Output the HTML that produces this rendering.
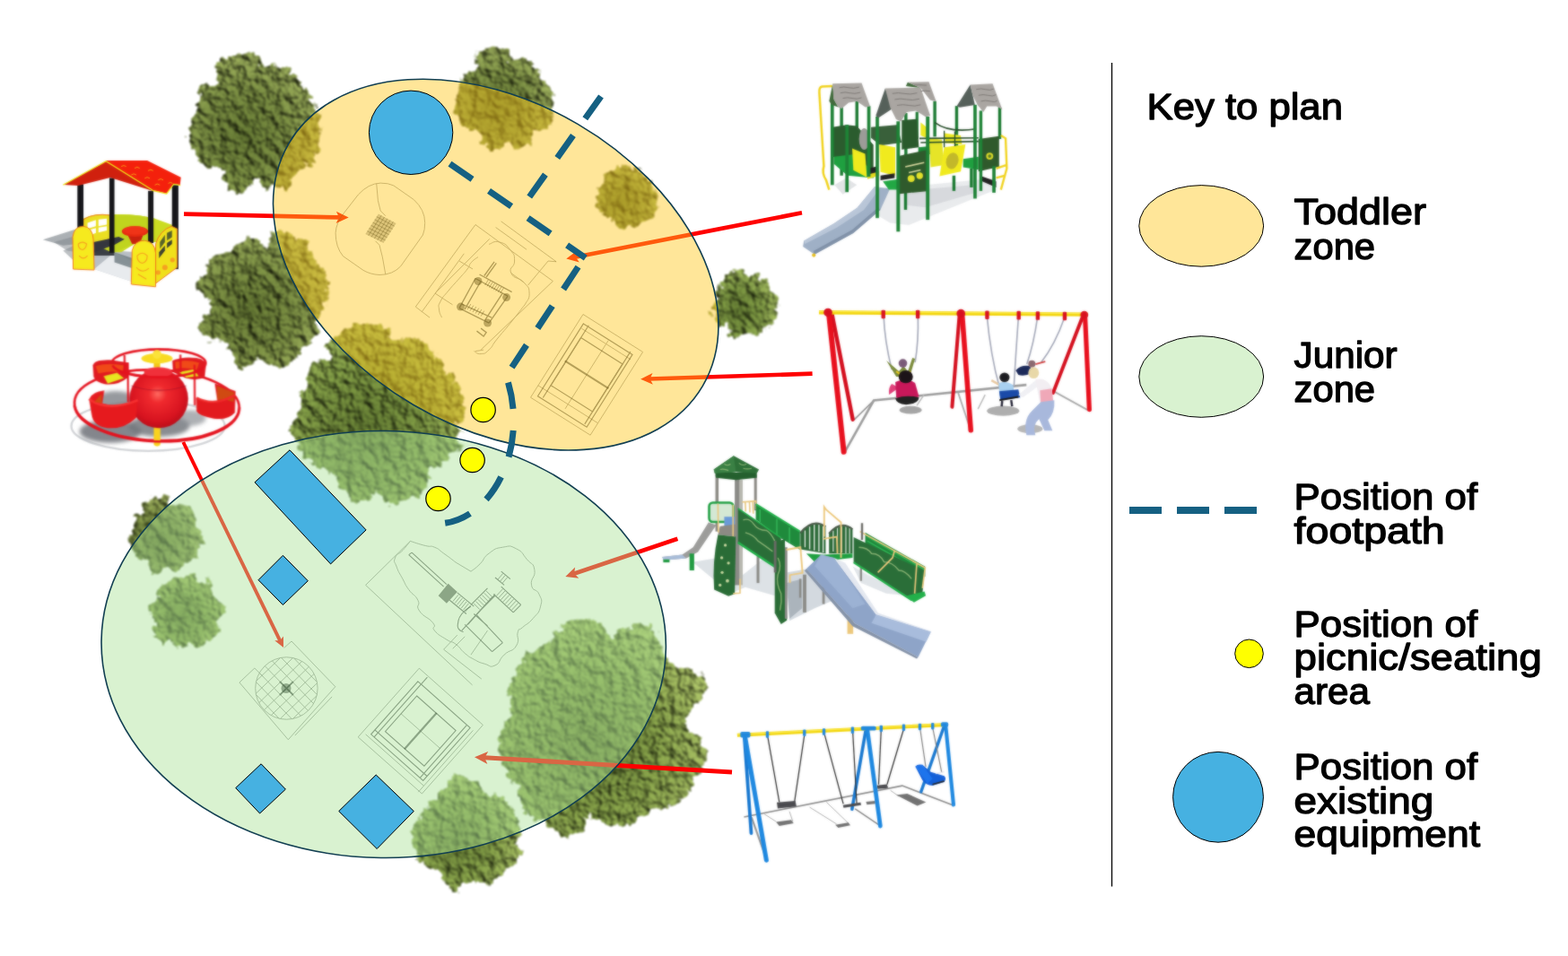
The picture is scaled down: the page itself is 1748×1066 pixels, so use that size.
<!DOCTYPE html>
<html lang="en"><head><meta charset="utf-8"><title>Play area plan</title>
<style>
html,body{margin:0;padding:0;background:#fff;}
body{width:1748px;height:1066px;overflow:hidden;font-family:"Liberation Sans",sans-serif;}
svg{display:block;}
.k{font-family:"Liberation Sans",sans-serif;font-size:41px;fill:#000;stroke:#000;stroke-width:1.3px;stroke-linejoin:round;}
</style></head><body>
<svg width="1748" height="1066" viewBox="0 0 1748 1066">
<rect width="1748" height="1066" fill="#fff"/>
<defs>

<filter id="fdark" x="-20%" y="-20%" width="140%" height="140%" color-interpolation-filters="sRGB">
  <feTurbulence type="fractalNoise" baseFrequency="0.11" numOctaves="3" seed="7" result="n1"/>
  <feDisplacementMap in="SourceGraphic" in2="n1" scale="14" xChannelSelector="R" yChannelSelector="G" result="shape"/>
  <feTurbulence type="fractalNoise" baseFrequency="0.1" numOctaves="4" seed="3" result="n2"/>
  <feColorMatrix in="n2" type="matrix" values="0 0 0 0 0  0 0 0 0 0  0 0 0 0 0  1.5 0 0 0 -0.25" result="bump"/>
  <feDiffuseLighting in="bump" surfaceScale="3.6" diffuseConstant="1.0" lighting-color="#ffffff" result="light">
    <feDistantLight azimuth="318" elevation="55"/>
  </feDiffuseLighting>
  <feComposite in="light" in2="shape" operator="arithmetic" k1="0.98" k2="0" k3="0.3" k4="-0.03" result="lit"/>
  <feComposite in="lit" in2="shape" operator="in" result="res"/>
  <feGaussianBlur in="res" stdDeviation="1"/>
</filter>
<radialGradient id="gdark" cx="0.43" cy="0.58" r="0.66">
  <stop offset="0" stop-color="#586830"/><stop offset="0.5" stop-color="#6c7c3e"/><stop offset="1" stop-color="#8e9c58"/>
</radialGradient>
<radialGradient id="gmid" cx="0.43" cy="0.58" r="0.66">
  <stop offset="0" stop-color="#586c30"/><stop offset="0.5" stop-color="#6e843e"/><stop offset="1" stop-color="#90a258"/>
</radialGradient>
<radialGradient id="glight" cx="0.43" cy="0.58" r="0.66">
  <stop offset="0" stop-color="#5e7234"/><stop offset="0.5" stop-color="#748a42"/><stop offset="1" stop-color="#96a85e"/>
</radialGradient>
<filter id="soft" x="-5%" y="-5%" width="110%" height="110%"><feGaussianBlur stdDeviation="0.8"/></filter>
<radialGradient id="gsphere" cx="0.48" cy="0.42" r="0.6">
  <stop offset="0" stop-color="#ff6a60"/><stop offset="0.25" stop-color="#f02a2e"/><stop offset="0.75" stop-color="#d81420"/><stop offset="1" stop-color="#b80c18"/>
</radialGradient>
<filter id="soft2" x="-5%" y="-5%" width="110%" height="110%"><feGaussianBlur stdDeviation="0.8"/></filter>
<filter id="blur3" x="-20%" y="-20%" width="140%" height="140%"><feGaussianBlur stdDeviation="14"/></filter>
<filter id="softe" x="-5%" y="-5%" width="110%" height="110%" color-interpolation-filters="sRGB"><feGaussianBlur stdDeviation="0.9" result="b"/><feComposite in="SourceGraphic" in2="b" operator="arithmetic" k1="0" k2="0.45" k3="0.55" k4="0"/></filter>

</defs>
<!-- trees -->
<path d="M270.7,58.8 C275.7,58.8 283.8,60.0 287.6,62.5 C291.3,65.0 289.4,71.9 293.2,73.8 C296.9,75.6 304.8,72.5 310.1,73.8 C315.4,75.0 320.4,77.8 325.1,81.3 C329.8,84.7 335.7,90.7 338.2,94.4 C340.7,98.2 337.9,100.7 340.1,103.8 C342.3,106.9 348.8,109.4 351.4,113.2 C353.9,116.9 354.5,122.2 355.1,126.3 C355.7,130.4 354.8,133.2 355.1,137.6 C355.4,141.9 357.0,147.6 357.0,152.6 C357.0,157.6 356.7,162.9 355.1,167.6 C353.5,172.3 351.0,177.3 347.6,180.7 C344.2,184.2 338.2,185.1 334.5,188.2 C330.7,191.3 327.3,195.7 325.1,199.5 C322.9,203.2 323.8,209.2 321.3,210.7 C318.8,212.3 314.5,209.2 310.1,208.9 C305.7,208.5 299.1,210.7 295.1,208.9 C291.0,207.0 288.5,197.6 285.7,197.6 C282.9,197.6 281.3,205.7 278.2,208.9 C275.1,212.0 270.7,215.7 266.9,216.4 C263.2,217.0 258.5,215.4 255.7,212.6 C252.9,209.8 250.7,203.5 250.0,199.5 C249.4,195.4 253.8,190.7 251.9,188.2 C250.0,185.7 243.2,185.1 238.8,184.5 C234.4,183.8 229.1,186.7 225.6,184.5 C222.2,182.3 220.0,175.4 218.1,171.3 C216.3,167.3 216.0,163.8 214.4,160.1 C212.8,156.3 209.1,152.6 208.8,148.8 C208.4,145.1 211.0,141.0 212.5,137.6 C214.1,134.1 217.2,131.3 218.1,128.2 C219.1,125.1 217.5,121.9 218.1,118.8 C218.8,115.7 220.6,113.2 221.9,109.4 C223.1,105.7 223.1,98.8 225.6,96.3 C228.1,93.8 234.1,96.0 236.9,94.4 C239.7,92.8 242.2,89.4 242.5,86.9 C242.8,84.4 238.5,82.5 238.8,79.4 C239.1,76.3 241.3,71.0 244.4,68.1 C247.5,65.3 253.2,64.1 257.5,62.5 C261.9,61.0 265.7,58.8 270.7,58.8Z" fill="url(#gdark)" filter="url(#fdark)"/>
<path d="M552.7,52.3 C557.8,52.3 564.0,54.6 566.8,57.0 C569.5,59.3 566.0,65.0 569.1,66.4 C572.2,67.7 580.8,63.6 585.5,65.2 C590.2,66.7 594.1,71.8 597.3,75.7 C600.4,79.6 601.6,84.9 604.3,88.6 C607.0,92.3 611.7,94.5 613.7,98.0 C615.6,101.5 615.8,105.4 616.0,109.7 C616.2,114.0 614.8,119.5 614.8,123.8 C614.8,128.1 617.4,132.0 616.0,135.5 C614.7,139.1 609.8,143.0 606.6,144.9 C603.5,146.9 600.0,144.5 597.3,147.3 C594.5,150.0 593.4,158.2 590.2,161.3 C587.1,164.5 582.8,166.0 578.5,166.0 C574.2,166.0 569.1,161.1 564.4,161.3 C559.7,161.5 554.7,167.2 550.4,167.2 C546.1,167.2 541.0,164.3 538.6,161.3 C536.3,158.4 539.0,152.3 536.3,149.6 C533.5,146.9 526.5,147.7 522.2,144.9 C517.9,142.2 513.2,137.5 510.5,133.2 C507.8,128.9 505.8,123.8 505.8,119.1 C505.8,114.4 508.9,109.7 510.5,105.0 C512.1,100.4 513.6,95.1 515.2,91.0 C516.7,86.9 517.3,83.2 519.9,80.4 C522.4,77.7 529.1,77.1 530.4,74.6 C531.8,72.0 527.1,68.1 528.1,65.2 C529.1,62.2 532.2,59.1 536.3,57.0 C540.4,54.8 547.6,52.3 552.7,52.3Z" fill="url(#gdark)" filter="url(#fdark)"/>
<path d="M692.2,183.6 C696.2,183.2 701.0,185.4 705.1,187.1 C709.2,188.9 713.3,191.4 716.9,194.2 C720.4,196.9 723.7,199.6 726.2,203.5 C728.8,207.5 731.1,212.9 732.1,217.6 C733.1,222.3 733.1,227.4 732.1,231.7 C731.1,236.0 729.2,240.1 726.2,243.4 C723.3,246.7 718.8,250.1 714.5,251.6 C710.2,253.2 704.7,252.2 700.5,252.8 C696.2,253.4 691.9,256.3 688.7,255.1 C685.6,254.0 684.8,248.9 681.7,245.8 C678.6,242.6 672.9,239.9 670.0,236.4 C667.0,232.9 664.5,229.0 664.1,224.7 C663.7,220.4 665.9,214.9 667.6,210.6 C669.4,206.3 672.3,202.4 674.7,198.9 C677.0,195.3 678.8,192.0 681.7,189.5 C684.6,186.9 688.3,184.0 692.2,183.6Z" fill="url(#gdark)" filter="url(#fdark)"/>
<path d="M283.8,265.8 C287.9,266.3 290.0,271.9 292.7,273.0 C295.3,274.0 298.0,273.7 299.8,272.1 C301.6,270.4 301.0,265.5 303.4,263.2 C305.7,260.8 309.9,257.8 314.1,257.8 C318.2,257.8 323.9,261.1 328.3,263.2 C332.8,265.2 337.5,267.0 340.8,270.3 C344.1,273.6 346.1,278.9 347.9,282.8 C349.7,286.6 349.4,290.2 351.5,293.5 C353.6,296.7 358.2,298.8 360.4,302.4 C362.6,305.9 364.3,310.4 364.9,314.9 C365.4,319.3 364.4,324.7 364.0,329.1 C363.5,333.6 363.1,337.4 362.2,341.6 C361.3,345.7 360.4,350.8 358.6,354.1 C356.8,357.3 351.8,358.5 351.5,361.2 C351.2,363.9 357.1,366.8 356.8,370.1 C356.5,373.4 352.7,378.4 349.7,380.8 C346.7,383.2 342.0,382.0 339.0,384.4 C336.0,386.7 334.3,391.5 331.9,395.1 C329.5,398.6 328.3,403.4 324.8,405.7 C321.2,408.1 315.2,409.6 310.5,409.3 C305.7,409.0 300.4,405.4 296.2,404.0 C292.1,402.5 289.1,399.5 285.5,400.4 C282.0,401.3 278.4,408.4 274.9,409.3 C271.3,410.2 266.8,408.1 264.2,405.7 C261.5,403.4 261.2,398.9 258.8,395.1 C256.4,391.2 253.8,385.0 249.9,382.6 C246.0,380.2 239.8,382.6 235.6,380.8 C231.5,379.0 227.0,375.2 225.0,371.9 C222.9,368.6 222.6,364.8 223.2,361.2 C223.8,357.6 226.4,353.5 228.5,350.5 C230.6,347.5 235.1,346.3 235.6,343.4 C236.2,340.4 234.5,335.6 232.1,332.7 C229.7,329.7 223.5,328.2 221.4,325.5 C219.3,322.9 218.7,319.6 219.6,316.6 C220.5,313.7 225.0,311.3 226.7,307.7 C228.5,304.2 229.4,298.5 230.3,295.2 C231.2,292.0 229.4,289.9 232.1,288.1 C234.8,286.3 242.2,286.0 246.3,284.6 C250.5,283.1 253.5,281.6 257.0,279.2 C260.6,276.8 263.3,272.5 267.7,270.3 C272.2,268.1 279.6,265.4 283.8,265.8Z" fill="url(#gdark)" filter="url(#fdark)"/>
<path d="M407.0,357.5 C411.5,357.5 417.0,361.2 421.5,362.7 C425.9,364.3 431.4,364.4 433.8,366.8 C436.2,369.2 432.8,375.4 435.9,377.2 C439.0,378.9 446.9,376.8 452.4,377.2 C457.9,377.5 464.5,377.2 468.9,379.2 C473.4,381.3 475.8,386.1 479.2,389.5 C482.7,393.0 486.8,396.1 489.6,399.9 C492.3,403.6 492.7,408.1 495.8,412.2 C498.9,416.4 505.0,420.5 508.1,424.6 C511.2,428.8 512.6,432.5 514.3,437.0 C516.1,441.5 518.1,447.0 518.5,451.5 C518.8,455.9 518.1,460.4 516.4,463.8 C514.7,467.3 508.1,469.3 508.1,472.1 C508.1,474.8 516.4,477.6 516.4,480.4 C516.4,483.1 508.1,485.9 508.1,488.6 C508.1,491.4 516.4,494.1 516.4,496.9 C516.4,499.6 511.6,502.7 508.1,505.1 C504.7,507.5 498.9,508.6 495.8,511.3 C492.7,514.1 493.0,519.2 489.6,521.6 C486.1,524.0 476.8,523.4 475.1,525.8 C473.4,528.2 479.6,532.6 479.2,536.1 C478.9,539.5 475.8,543.3 473.1,546.4 C470.3,549.5 466.5,552.6 462.7,554.7 C459.0,556.7 455.2,557.6 450.4,558.8 C445.5,560.0 438.7,563.6 433.8,561.9 C429.0,560.2 425.6,548.8 421.5,548.5 C417.3,548.1 413.9,558.4 409.1,559.8 C404.3,561.2 397.4,559.0 392.6,556.7 C387.7,554.5 382.6,550.2 380.2,546.4 C377.8,542.6 380.2,537.5 378.1,534.0 C376.0,530.6 372.3,528.2 367.8,525.8 C363.3,523.4 356.1,522.3 351.3,519.6 C346.5,516.8 342.0,513.0 338.9,509.2 C335.8,505.5 334.8,501.0 332.7,496.9 C330.6,492.7 327.9,488.3 326.5,484.5 C325.1,480.7 323.8,477.6 324.4,474.2 C325.1,470.7 328.6,467.6 330.6,463.8 C332.7,460.1 336.1,455.6 336.8,451.5 C337.5,447.3 334.1,443.2 334.8,439.1 C335.5,434.9 339.2,431.2 341.0,426.7 C342.7,422.2 343.4,416.0 345.1,412.2 C346.8,408.5 348.2,405.7 351.3,404.0 C354.4,402.3 360.6,403.3 363.7,401.9 C366.8,400.5 369.9,398.1 369.9,395.7 C369.9,393.3 363.7,390.6 363.7,387.5 C363.7,384.4 366.8,380.2 369.9,377.2 C373.0,374.1 378.1,371.3 382.2,368.9 C386.4,366.5 390.5,364.6 394.6,362.7 C398.8,360.8 402.5,357.5 407.0,357.5Z" fill="url(#gmid)" filter="url(#fdark)"/>
<path d="M822.9,300.3 C826.1,300.1 830.0,301.2 831.9,302.5 C833.8,303.8 832.1,307.4 834.2,308.1 C836.2,308.9 841.5,306.3 844.3,307.0 C847.1,307.8 849.0,310.8 851.1,312.6 C853.1,314.5 855.4,316.2 856.7,318.3 C858.0,320.3 857.6,323.3 858.9,325.0 C860.2,326.7 863.4,326.5 864.6,328.4 C865.7,330.3 865.9,333.8 865.7,336.3 C865.5,338.7 863.3,340.8 863.4,343.0 C863.5,345.3 866.3,347.4 866.3,349.8 C866.3,352.2 865.0,355.4 863.4,357.7 C861.8,359.9 858.7,361.8 856.7,363.3 C854.6,364.8 852.4,365.0 851.1,366.7 C849.7,368.4 850.3,372.1 848.8,373.4 C847.3,374.8 844.7,374.9 842.0,374.6 C839.4,374.2 835.5,371.4 833.0,371.2 C830.6,371.0 829.3,372.4 827.4,373.4 C825.5,374.5 823.8,377.2 821.8,377.4 C819.7,377.6 816.6,376.2 815.0,374.6 C813.4,373.0 813.5,370.1 812.2,367.8 C810.9,365.6 808.9,362.0 807.1,361.1 C805.4,360.1 803.2,362.7 801.5,362.2 C799.8,361.6 798.0,359.6 797.0,357.7 C796.1,355.8 796.7,353.2 795.9,350.9 C795.0,348.7 792.1,346.4 792.0,344.2 C791.8,341.9 793.5,339.3 794.8,337.4 C796.0,335.5 798.7,335.0 799.3,332.9 C799.8,330.8 797.8,327.5 798.1,325.0 C798.5,322.6 800.0,319.6 801.5,318.3 C803.0,317.0 806.2,318.7 807.1,317.1 C808.1,315.6 806.2,311.5 807.1,309.3 C808.1,307.0 810.2,305.1 812.8,303.6 C815.4,302.1 819.7,300.5 822.9,300.3Z" fill="url(#gmid)" filter="url(#fdark)"/>
<path d="M177.4,552.7 C180.8,552.7 186.5,554.1 188.8,555.8 C191.0,557.5 188.4,562.0 190.8,563.0 C193.2,564.1 199.4,561.0 203.2,562.0 C207.0,563.0 211.1,566.3 213.5,569.2 C215.9,572.1 215.9,576.1 217.6,579.5 C219.4,583.0 222.6,586.1 223.8,589.9 C225.0,593.6 224.9,598.5 224.9,602.2 C224.9,606.0 224.7,609.5 223.8,612.6 C223.0,615.7 221.8,618.8 219.7,620.8 C217.6,622.9 213.9,622.9 211.5,624.9 C209.0,627.0 208.4,631.5 205.3,633.2 C202.2,634.9 196.7,635.3 192.9,635.3 C189.1,635.3 185.7,632.5 182.6,633.2 C179.5,633.9 177.1,639.4 174.3,639.4 C171.6,639.4 167.4,635.6 166.0,633.2 C164.7,630.8 167.8,626.7 166.0,624.9 C164.3,623.2 158.7,624.3 155.7,622.9 C152.8,621.5 149.9,619.1 148.5,616.7 C147.1,614.3 148.5,610.8 147.5,608.4 C146.4,606.0 142.3,604.6 142.3,602.2 C142.3,599.8 146.4,597.1 147.5,594.0 C148.5,590.9 147.5,587.1 148.5,583.7 C149.5,580.2 151.4,575.8 153.7,573.3 C155.9,570.9 160.9,571.3 161.9,569.2 C163.0,567.2 158.8,563.2 159.9,561.0 C160.9,558.7 165.2,557.2 168.1,555.8 C171.0,554.4 174.0,552.7 177.4,552.7Z" fill="url(#gdark)" filter="url(#fdark)"/>
<path d="M207.3,640.4 C210.9,640.3 215.9,642.0 218.7,643.5 C221.4,645.1 221.3,649.0 223.8,649.7 C226.4,650.4 231.8,646.3 234.2,647.6 C236.6,649.0 237.3,654.5 238.3,658.0 C239.3,661.4 238.6,665.9 240.4,668.3 C242.1,670.7 246.9,670.4 248.6,672.4 C250.3,674.5 251.4,677.9 250.7,680.7 C250.0,683.4 245.5,685.8 244.5,688.9 C243.4,692.0 245.2,695.8 244.5,699.2 C243.8,702.7 242.4,706.5 240.4,709.6 C238.3,712.7 235.2,716.1 232.1,717.8 C229.0,719.5 225.2,719.9 221.8,719.9 C218.3,719.9 214.6,717.5 211.5,717.8 C208.4,718.2 205.8,722.0 203.2,722.0 C200.6,722.0 198.4,719.2 196.0,717.8 C193.6,716.4 191.0,713.4 188.8,713.7 C186.5,714.0 185.0,720.2 182.6,719.9 C180.2,719.5 176.4,714.7 174.3,711.6 C172.2,708.5 170.5,704.4 170.2,701.3 C169.8,698.2 172.8,696.2 172.2,693.1 C171.7,690.0 167.4,686.2 167.1,682.7 C166.7,679.3 168.6,675.5 170.2,672.4 C171.7,669.3 175.0,667.3 176.4,664.2 C177.7,661.1 176.7,656.6 178.4,653.8 C180.2,651.1 183.6,649.2 186.7,647.6 C189.8,646.1 193.6,645.8 197.0,644.6 C200.4,643.3 203.7,640.6 207.3,640.4Z" fill="url(#gmid)" filter="url(#fdark)"/>
<path d="M631.9,694.8 C637.0,692.4 646.9,689.6 653.6,690.1 C660.3,690.6 668.0,694.5 672.1,697.9 C676.3,701.2 674.2,709.7 678.3,710.2 C682.4,710.8 690.7,703.8 696.9,701.0 C703.1,698.1 709.8,692.7 715.5,693.2 C721.1,693.7 727.3,699.1 730.9,704.0 C734.5,708.9 734.5,716.9 737.1,722.6 C739.7,728.3 742.8,734.5 746.4,738.1 C750.0,741.7 754.1,742.7 758.8,744.3 C763.4,745.8 769.9,744.8 774.3,747.4 C778.6,750.0 783.5,754.6 785.1,759.8 C786.6,764.9 786.4,772.7 783.5,778.3 C780.7,784.0 771.2,788.6 768.1,793.8 C765.0,799.0 763.4,804.6 765.0,809.3 C766.5,813.9 773.7,817.0 777.4,821.7 C781.0,826.3 785.6,831.5 786.6,837.1 C787.7,842.8 785.6,850.0 783.5,855.7 C781.5,861.4 777.4,866.0 774.3,871.2 C771.2,876.3 769.6,882.0 765.0,886.7 C760.3,891.3 752.6,895.9 746.4,899.0 C740.2,902.1 733.5,902.6 727.8,905.2 C722.2,907.8 718.0,911.9 712.4,914.5 C706.7,917.1 698.9,919.1 693.8,920.7 C688.6,922.2 685.5,924.8 681.4,923.8 C677.3,922.8 673.7,916.6 669.0,914.5 C664.4,912.4 656.7,909.9 653.6,911.4 C650.5,913.0 654.1,920.2 650.5,923.8 C646.9,927.4 638.1,933.6 631.9,933.1 C625.7,932.6 618.0,923.8 613.3,920.7 C608.7,917.6 608.2,916.6 604.0,914.5 C599.9,912.4 592.7,911.9 588.6,908.3 C584.4,904.7 581.3,898.0 579.3,892.8 C577.2,887.7 578.8,882.5 576.2,877.4 C573.6,872.2 566.9,867.6 563.8,861.9 C560.7,856.2 558.9,849.5 557.6,843.3 C556.3,837.1 555.3,830.9 556.1,824.8 C556.8,818.6 559.9,811.9 562.3,806.2 C564.6,800.5 569.2,796.4 570.0,790.7 C570.8,785.0 566.4,778.3 566.9,772.1 C567.4,765.9 571.0,759.2 573.1,753.6 C575.1,747.9 575.7,742.7 579.3,738.1 C582.9,733.4 589.6,729.3 594.8,725.7 C599.9,722.1 605.6,720.0 610.2,716.4 C614.9,712.8 619.0,707.7 622.6,704.0 C626.2,700.4 626.7,697.1 631.9,694.8Z" fill="url(#glight)" filter="url(#fdark)"/>
<path d="M511.2,863.4 C515.8,864.0 524.6,867.8 529.8,871.2 C534.9,874.5 537.0,880.5 542.1,883.6 C547.3,886.7 555.5,886.1 560.7,889.7 C565.9,893.4 570.0,899.0 573.1,905.2 C576.2,911.4 578.8,920.7 579.3,926.9 C579.8,933.1 575.9,937.7 576.2,942.4 C576.4,947.0 581.9,950.6 580.8,954.7 C579.8,958.9 574.4,963.5 570.0,967.1 C565.6,970.7 559.2,973.3 554.5,976.4 C549.9,979.5 546.8,984.7 542.1,985.7 C537.5,986.7 531.8,981.6 526.7,982.6 C521.5,983.6 516.3,991.4 511.2,991.9 C506.0,992.4 499.3,989.3 495.7,985.7 C492.1,982.1 493.1,973.8 489.5,970.2 C485.9,966.6 478.2,966.6 474.0,964.0 C469.9,961.4 467.3,958.9 464.8,954.7 C462.2,950.6 459.1,944.9 458.6,939.3 C458.1,933.6 459.6,926.4 461.7,920.7 C463.7,915.0 467.3,909.9 471.0,905.2 C474.6,900.6 479.7,897.0 483.3,892.8 C486.9,888.7 489.5,884.6 492.6,880.5 C495.7,876.3 498.8,870.9 501.9,868.1 C505.0,865.2 506.5,862.9 511.2,863.4Z" fill="url(#glight)" filter="url(#fdark)"/>

<!-- equipment -->
<g filter="url(#softe)"><g transform="translate(30,150) scale(0.18762)">
  <!-- shadow -->
  <polygon points="95,625 300,560 300,650 215,660" fill="#8f959b" opacity="0.75"/>
  <polygon points="215,690 300,650 300,770" fill="#a0a5aa" opacity="0.7"/>
  <polygon points="160,640 300,600 300,700 240,690" fill="#7d8389" opacity="0.5"/>
  <!-- floor -->
  <polygon points="395,690 520,690 660,700 640,880 400,800" fill="#b8bec4"/>
  <polygon points="400,800 640,880 760,905 765,880 640,760 520,700" fill="#e8ebee"/>
  <polygon points="520,700 640,740 640,800 520,760" fill="#6d7a80" opacity="0.8"/>
  <polygon points="400,690 520,660 520,720 400,720" fill="#3a3f45"/>
  <!-- back wall -->
  <path d="M335,500 Q400,465 500,478 L520,475 Q650,470 760,500 L870,540 L870,640 L760,640 L640,650 L560,700 L500,700 L400,650 L335,600 Z" fill="#cbdc22"/>
  <path d="M520,480 Q650,470 760,500 L760,640 L640,650 L520,700 Z" fill="#c0d41e"/>
  <!-- left side window panel -->
  <path d="M335,505 Q400,465 495,480 L495,620 L395,650 L335,600 Z" fill="#eadf22" stroke="#f0701a" stroke-width="5"/>
  <polygon points="360,525 410,508 410,545 360,560" fill="#fff"/>
  <polygon points="425,505 475,500 475,535 425,545" fill="#fff"/>
  <polygon points="360,570 410,555 410,585 375,600" fill="#fff"/>
  <polygon points="425,553 475,545 475,570 425,582" fill="#fff"/>
  <!-- table -->
  <polygon points="600,600 690,600 670,650 625,650" fill="#c8200e"/>
  <ellipse cx="642" cy="575" rx="78" ry="32" fill="#e62a10"/>
  <ellipse cx="642" cy="570" rx="70" ry="25" fill="#f03418"/>
  <!-- bench -->
  <polygon points="395,640 545,608 580,622 520,655 400,700" fill="#34363e"/>
  <!-- posts -->
  <rect x="300" y="295" width="36" height="260" fill="#16161a"/>
  <rect x="490" y="258" width="30" height="445" fill="#16161a"/>
  <rect x="720" y="335" width="32" height="310" fill="#16161a"/>
  <rect x="862" y="300" width="38" height="500" fill="#16161a"/>
  <!-- right side panel -->
  <path d="M765,650 Q790,570 860,545 L892,560 L892,790 L765,885 Z" fill="#f0e01a" stroke="#f0701a" stroke-width="5"/>
  <polygon points="790,640 820,595 820,640 790,680" fill="#55602a"/>
  <polygon points="832,585 862,570 862,610 832,630" fill="#55602a"/>
  <polygon points="785,700 820,660 820,690 785,735" fill="#3c4030"/>
  <polygon points="832,645 862,625 862,650 832,675" fill="#3c4030"/>
  <circle cx="820" cy="790" r="16" fill="#f5a020"/><circle cx="865" cy="745" r="14" fill="#f5a020"/><circle cx="780" cy="820" r="14" fill="#f5a020"/>
  <!-- front panels -->
  <path d="M275,800 L272,610 Q280,545 335,545 Q390,550 395,625 L400,805 Z" fill="#f6ea1e" stroke="#f0701a" stroke-width="5"/>
  <path d="M305,650 q25,-20 50,0 q-5,30 -25,35 q-25,-5 -25,-35 M310,720 q25,30 50,0" fill="none" stroke="#f5a020" stroke-width="6"/>
  <path d="M620,890 L625,690 Q640,628 700,630 Q760,636 765,705 L765,905 Z" fill="#f6ea1e" stroke="#f0701a" stroke-width="5"/>
  <path d="M655,720 q30,-30 60,0 q0,40 -30,45 q-30,-5 -30,-45 M650,790 q35,40 75,5 M660,830 l50,30" fill="none" stroke="#f5a020" stroke-width="6"/>
  <!-- roof -->
  <polygon points="470,160 215,298 305,304 495,256 745,335 752,328 480,166" fill="#d0200e"/>
  <polygon points="470,154 715,154 915,255 910,300 872,293 830,350 745,330 472,166" fill="#f4200c"/>
  <path d="M215,300 L470,158 L748,332 M745,332 L830,352 L872,295 L912,302" fill="none" stroke="#ecec18" stroke-width="7"/>
  <path d="M560,190 q15,-12 30,0 M640,200 q15,-12 30,0 M720,215 q15,-12 30,0 M620,240 q15,-12 30,0 M700,260 q15,-12 30,0 M780,270 q15,-12 30,0 M760,300 q15,-12 30,0 M840,290 q12,-10 25,0" fill="none" stroke="#f6a016" stroke-width="5"/>
</g></g>
<g filter="url(#softe)"><g transform="translate(60,370) scale(0.15009)">
  <ellipse cx="700" cy="700" rx="570" ry="185" fill="none" stroke="#c4c7cb" stroke-width="16" opacity="0.75"/>
  <g filter="url(#blur3)">
  <ellipse cx="420" cy="740" rx="230" ry="85" fill="#6e7278" opacity="0.85"/>
  <ellipse cx="780" cy="700" rx="230" ry="80" fill="#74787e" opacity="0.85"/>
  <ellipse cx="460" cy="510" rx="150" ry="70" fill="#7c8086" opacity="0.8"/>
  <ellipse cx="1010" cy="640" rx="120" ry="60" fill="#8a8e94" opacity="0.7"/>
  </g>
  <!-- rings back -->
  <ellipse cx="765" cy="545" rx="612" ry="262" fill="none" stroke="#e4121e" stroke-width="18" transform="rotate(2 765 545)"/>
  <ellipse cx="780" cy="232" rx="348" ry="102" fill="none" stroke="#e4121e" stroke-width="17"/>
  <!-- back seats -->
  <path d="M290,250 Q300,205 420,210 L555,230 L550,340 Q480,400 380,390 Q300,370 295,330 Z" fill="#e01a20"/>
  <path d="M370,330 L470,305 L520,345 L400,385 Z" fill="#e8e820"/>
  <path d="M880,215 Q960,180 1060,195 Q1130,210 1130,250 L1120,340 Q1060,365 980,345 L885,300 Z" fill="#e01a20"/>
  <path d="M930,300 L1040,280 L1075,330 L985,340 Z" fill="#e8e820"/>
  <path d="M900,225 Q980,200 1080,230 L1060,285 Q980,260 905,275 Z" fill="#f04a18"/>
  <path d="M310,255 Q400,225 520,250 L510,300 Q420,290 330,310 Z" fill="#f04a18"/>
  <!-- posts -->
  <path d="M550,230 L552,520 M1045,245 L1047,545 M940,170 L942,300 M525,175 L527,300" stroke="#e4121e" stroke-width="14" fill="none"/>
  <!-- yellow top -->
  <rect x="742" y="205" width="48" height="60" fill="#f2c818"/>
  <ellipse cx="766" cy="198" rx="116" ry="38" fill="#f8da22"/>
  <circle cx="766" cy="168" r="33" fill="#fbe33a"/>
  <!-- bottom stem -->
  <rect x="742" y="690" width="50" height="160" rx="22" fill="#f8d21e"/>
  <!-- sphere -->
  <circle cx="780" cy="497" r="218" fill="url(#gsphere)"/>
  <ellipse cx="775" cy="300" rx="105" ry="38" fill="#f0303a"/>
  <path d="M575,400 Q780,470 985,400" stroke="#a01028" stroke-width="7" fill="none" opacity="0.7"/>
  <path d="M436,250 A348,102 0 0 0 1124,250" fill="none" stroke="#e4121e" stroke-width="17"/>
  <!-- right seat -->
  <path d="M1195,385 L1350,440 L1345,600 Q1290,660 1190,645 Q1080,625 1060,590 L1058,490 Q1130,530 1215,515 Z" fill="#e21a1e"/>
  <path d="M1210,400 L1340,450 L1335,520 Q1270,500 1215,505 Z" fill="#d04a12"/>
  <path d="M1060,490 Q1190,560 1345,470" stroke="#f02a2a" stroke-width="16" fill="none"/>
  <!-- front-left seat -->
  <path d="M262,500 Q280,445 375,435 L360,530 Q480,570 625,508 L610,640 Q520,725 400,715 Q290,700 280,610 Z" fill="#e61a1e"/>
  <path d="M262,500 Q400,600 625,508" stroke="#f63030" stroke-width="18" fill="none"/>
  <path d="M300,520 L355,460 L355,530 Z" fill="#d04a12"/>
  <!-- front ring overlay -->
  <path d="M153,545 A612,262 2 0 0 1377,560" fill="none" stroke="#e4121e" stroke-width="18"/>
</g></g>
<g filter="url(#softe)"><g transform="translate(900,80) scale(0.13158)">
  <!-- ground shadow -->
  <polygon points="640,1010 1000,960 1600,900 1600,1000 1400,1080 1100,1200 860,1300 700,1280 600,1220" fill="#d4d7dc" opacity="0.5"/>
  <polygon points="820,1010 1400,960 1440,1020 1000,1150 840,1130" fill="#c0c4ca" opacity="0.45"/>
  <polygon points="230,960 330,900 420,960 300,1040" fill="#cfd2d6" opacity="0.6"/>
  <!-- slide -->
  <polygon points="570,974 701,990 619,1171 389,1368 61,1548 -37,1482 -29,1433 225,1286 422,1154" fill="#9fb0c6"/>
  <polygon points="570,974 620,980 480,1170 250,1320 -20,1460 -29,1433 225,1286 422,1154" fill="#b9c6d8"/>
  <polygon points="619,1171 389,1368 61,1548 50,1520 380,1340 600,1150" fill="#8091a8"/>
  <circle cx="55" cy="1555" r="16" fill="#e8c020"/>
  <!-- back posts -->
  <g fill="#1c7a32">
    <rect x="407" y="250" width="26" height="460"/><rect x="822" y="350" width="26" height="360"/>
    <rect x="917" y="340" width="24" height="230"/><rect x="1067" y="250" width="26" height="300"/>
    <rect x="1252" y="290" width="26" height="340"/><rect x="1617" y="300" width="26" height="270"/>
    <rect x="277" y="300" width="26" height="580"/>
    <rect x="1229" y="880" width="26" height="130"/><rect x="1377" y="820" width="26" height="160"/>
    <rect x="819" y="700" width="26" height="470"/>
  </g>
  <!-- dark panels -->
  <polygon points="215,470 330,450 420,460 560,620 560,900 430,760 300,740 215,720" fill="#2b5c2e"/>
  <polygon points="540,470 760,450 800,600 620,625 540,560" fill="#39603a"/>
  <polygon points="800,410 930,400 945,640 800,660" fill="#2a5a2c"/>
  <ellipse cx="482" cy="570" rx="44" ry="92" fill="#9c9c98"/>
  <!-- decks -->
  <polygon points="225,720 400,700 560,850 560,900 340,880 225,780" fill="#1fa040"/>
  <polygon points="640,930 770,910 770,1000 690,1000" fill="#22a844"/>
  <polygon points="1320,740 1450,720 1450,830 1320,810" fill="#1fa040"/>
  <polygon points="940,640 1040,630 1040,700 940,700" fill="#1b8a38"/>
  <!-- yellow bits -->
  <polygon points="1030,560 1140,575 1160,790 1045,810" fill="#e6e428"/>
  <polygon points="1160,520 1300,540 1310,615 1170,605" fill="#ece822"/>
  <polygon points="960,430 1010,470 1010,560 960,540" fill="#ece822"/>
  <path d="M1160,640 L1340,615 L1300,845 L1120,885 Z" fill="#f0ea1e"/>
  <ellipse cx="1228" cy="755" rx="52" ry="70" fill="#c2b82a" transform="rotate(15 1228 755)"/>
  <path d="M380,650 L490,695 L505,895 L390,835 Z" fill="#f0ea1e"/>
  <path d="M610,615 L745,640 L745,880 L620,850 Z" fill="#f0ea1e"/>
  <polygon points="510,870 610,840 610,880 510,910" fill="#e6d81c"/><polygon points="620,880 740,860 740,900 620,920" fill="#222"/>
  <polygon points="510,820 600,800 600,850 510,870" fill="#222"/>
  <!-- rope bridge -->
  <path d="M1080,430 Q1200,520 1430,485 M950,565 L1450,560 M960,600 L1450,590" stroke="#234a26" stroke-width="12" fill="none"/>
  <path d="M1160,500 L1160,640 M1250,505 L1250,630" stroke="#234a26" stroke-width="10" fill="none"/>
  <!-- right panel & sign -->
  <polygon points="1450,570 1625,545 1625,805 1450,845" fill="#2f5a2c"/>
  <circle cx="1545" cy="715" r="30" fill="#d8d828"/><circle cx="1545" cy="715" r="14" fill="#5a7a2a"/>
  <polygon points="1460,880 1600,930 1600,980 1460,920" fill="#222"/>
  <polygon points="780,712 1030,660 1032,1010 782,1035" fill="#2f5a2c"/>
  <circle cx="880" cy="905" r="30" fill="#e4e22a"/><circle cx="952" cy="882" r="28" fill="#e4e22a"/>
  <path d="M830,805 L990,770 M860,855 L960,832" stroke="#d9d9a0" stroke-width="12" fill="none"/>
  <!-- front posts -->
  <g fill="#1e8236">
    <rect x="197" y="230" width="28" height="730"/>
    <rect x="322" y="450" width="28" height="570"/>
    <rect x="507" y="290" width="28" height="600"/>
    <rect x="579" y="380" width="28" height="860"/>
    <rect x="755" y="420" width="30" height="935"/>
    <rect x="1005" y="380" width="30" height="875"/>
    <rect x="1407" y="280" width="28" height="795"/>
    <rect x="1457" y="330" width="26" height="680"/>
    <rect x="1567" y="800" width="28" height="225"/>
  </g>
  <!-- yellow rails -->
  <path d="M212,122 L125,126 Q98,130 102,180 L140,800 Q120,860 160,920 L185,1000" stroke="#f0d21c" stroke-width="19" fill="none"/>
  <path d="M1640,540 L1680,565 L1690,820 L1640,1000 M1600,820 L1690,790 M1600,900 L1670,880" stroke="#f0d21c" stroke-width="18" fill="none"/>
  <!-- roofs -->
  <polygon points="215,100 185,248 205,280 262,300 225,232" fill="#3f6a3a"/>
  <polygon points="215,100 460,95 532,292 492,300 420,250 350,262 292,312 262,300 222,232" fill="#aaa6a2"/>
  <polygon points="850,90 835,122 960,137" fill="#3f6a3a"/>
  <polygon points="850,90 1030,85 1092,252 1040,240 960,137" fill="#a6a29e"/>
  <polygon points="660,140 580,372 602,392 722,312" fill="#55605a"/>
  <polygon points="660,140 960,135 1042,372 1002,382 920,330 842,342 792,422 752,402 702,302" fill="#aaa6a2"/>
  <polygon points="1380,110 1265,292 1292,302 1420,282 1402,202" fill="#55605a"/>
  <polygon points="1380,110 1570,100 1652,322 1602,292 1522,292 1492,342 1442,282 1402,202" fill="#aaa6a2"/>
  <g stroke="#6e6a66" stroke-width="7" fill="none" opacity="0.8">
    <path d="M270,135 q40,-12 80,0 t90,-5 M280,180 q40,-12 80,0 t90,-5 M300,225 q40,-12 80,0 t80,-5"/>
    <path d="M720,185 q50,-12 100,0 t110,-5 M740,235 q50,-12 100,0 t110,-5 M760,285 q50,-12 100,0 t100,-5"/>
    <path d="M1430,150 q40,-12 80,0 t70,-5 M1450,200 q40,-12 80,0 t70,-5 M1470,250 q40,-12 80,0 t60,-5"/>
    <path d="M900,115 q40,-8 110,0 M960,165 q40,-8 80,0"/>
  </g>
</g></g>
<g filter="url(#softe)"><g transform="translate(890,320) scale(0.20023)">
  <!-- ground shadows -->
  <g stroke="#8a8a8a" fill="none" opacity="0.85">
    <path d="M258,920 L420,632 L1270,545" stroke-width="13"/>
    <path d="M420,632 L310,740" stroke-width="9"/>
    <path d="M960,800 L890,590 M1610,685 L1420,580" stroke-width="9" stroke="#9a9a9a"/>
    <path d="M700,600 L660,660 M1040,600 L1000,680" stroke-width="7" stroke="#aaa"/>
  </g>
  <ellipse cx="625" cy="685" rx="62" ry="22" fill="#8f8f8f" opacity="0.8"/>
  <ellipse cx="1140" cy="690" rx="90" ry="28" fill="#9a9a9a" opacity="0.8"/>
  <ellipse cx="1290" cy="790" rx="70" ry="25" fill="#a5a5a5" opacity="0.8"/>
  <!-- back legs -->
  <g stroke="#d40f1e" stroke-linecap="round" fill="none">
    <path d="M188,155 L303,738" stroke-width="22"/>
    <path d="M897,155 L856,668" stroke-width="20"/>
    <path d="M1585,160 L1418,590" stroke-width="20"/>
  </g>
  <!-- chains -->
  <g stroke="#a4a8b8" stroke-width="8" fill="none">
    <path d="M475,160 Q480,300 520,460"/><path d="M666,160 Q670,300 650,420"/>
    <path d="M1050,160 Q1070,380 1120,560"/><path d="M1226,160 Q1210,380 1200,560"/>
    <path d="M1332,165 Q1310,320 1272,430"/><path d="M1482,170 Q1430,320 1352,420"/>
  </g>
  <!-- top bar -->
  <path d="M115,141 L1612,153" stroke="#f2d40c" stroke-width="22" fill="none"/>
  <path d="M115,136 L1612,148" stroke="#fbe94a" stroke-width="7" fill="none"/>
  <g fill="#d8101e">
    <rect x="462" y="128" width="22" height="48" rx="6"/><rect x="654" y="128" width="22" height="48" rx="6"/>
    <rect x="1040" y="132" width="22" height="48" rx="6"/><rect x="1216" y="134" width="22" height="48" rx="6"/>
    <rect x="1322" y="136" width="22" height="48" rx="6"/><rect x="1472" y="138" width="22" height="48" rx="6"/>
  </g>
  <!-- front legs -->
  <g stroke="#e8101e" stroke-linecap="round" fill="none">
    <path d="M170,150 L253,918" stroke-width="30"/>
    <path d="M912,155 L960,798" stroke-width="28"/>
    <path d="M1596,160 L1620,682" stroke-width="26"/>
  </g>
  <circle cx="165" cy="142" r="24" fill="#d8101e"/><circle cx="905" cy="148" r="24" fill="#d8101e"/><circle cx="1592" cy="155" r="22" fill="#d8101e"/>
  <!-- girl 1 -->
  <path d="M490,410 L560,470 L585,440 L610,470 L635,395 L650,400 L620,500 L545,500 Z" fill="#7a8a3a"/>
  <circle cx="582" cy="425" r="24" fill="#7a5a78"/>
  <path d="M545,470 L585,500 L625,470" stroke="#e8c820" stroke-width="10" fill="none"/>
  <path d="M520,540 Q500,560 505,600 L560,560 Z" fill="#e0407a"/>
  <path d="M540,530 Q600,500 650,535 L672,610 Q600,640 545,615 Z" fill="#c8185a"/>
  <ellipse cx="598" cy="500" rx="40" ry="36" fill="#1c1418"/>
  <path d="M540,620 Q600,600 672,615 Q670,650 600,655 Q545,650 540,620 Z" fill="#222"/>
  <!-- toddler in seat -->
  <ellipse cx="1148" cy="503" rx="28" ry="26" fill="#1c1c20"/>
  <path d="M1075,520 L1120,545" stroke="#e8c8a0" stroke-width="12"/>
  <path d="M1115,535 Q1160,520 1195,545 L1205,600 L1120,605 Z" fill="#a8d0f0"/>
  <path d="M1118,580 L1225,570 L1235,615 L1125,630 Z" fill="#1a4aa8"/>
  <path d="M1120,630 L1225,612" stroke="#111" stroke-width="10"/>
  <path d="M1135,635 L1132,665 M1185,630 L1190,665" stroke="#223" stroke-width="12"/>
  <!-- flying child -->
  <path d="M1210,465 Q1240,430 1290,440 L1300,480 Q1260,500 1225,490 Z" fill="#1c2a5a"/>
  <circle cx="1300" cy="428" r="20" fill="#8a6a70"/>
  <path d="M1320,430 L1375,415" stroke="#d04040" stroke-width="9"/>
  <!-- woman -->
  <ellipse cx="1310" cy="478" rx="30" ry="32" fill="#e8d8a8"/>
  <path d="M1225,600 L1320,520 L1345,545 L1250,615 Z" fill="#f0f0f4"/>
  <path d="M1320,515 Q1380,500 1410,560 L1420,640 L1345,650 Z" fill="#f2eef2"/>
  <path d="M1345,575 L1410,565 L1420,640 L1350,650 Z" fill="#f0a8b8"/>
  <path d="M1350,640 L1425,630 Q1430,700 1390,740 L1415,800 L1370,800 L1340,735 Q1300,770 1320,825 L1270,825 Q1250,740 1300,690 Z" fill="#a8b8dc"/>
</g></g>
<g filter="url(#softe)"><g transform="translate(730,500) scale(0.23452)">
  <!-- shadows -->
  <polygon points="180,540 300,520 420,600 520,520 570,560 570,700 430,660 360,690" fill="#cfd6dc" opacity="0.7"/>
  <polygon points="630,590 800,560 900,700 760,760 640,820" fill="#c4ccd4" opacity="0.75"/>
  <polygon points="940,560 1010,600 1200,700 1100,690 980,640" fill="#d4dae0" opacity="0.7"/>
  <polygon points="625,640 700,620 700,760 640,810" fill="#9aa4ae" opacity="0.7"/>
  <!-- small slide -->
  <polygon points="255,352 292,365 205,492 150,522 42,532 35,516 130,505 182,470" fill="#9c9c9a"/>
  <polygon points="150,522 42,532 35,516 130,505" fill="#a8bcd8"/>
  <rect x="165" y="500" width="22" height="80" fill="#1f9a40"/>
  <rect x="40" y="528" width="30" height="14" fill="#1f9a40"/>
  <!-- tower posts -->
  <rect x="288" y="125" width="15" height="270" fill="#8c8a84"/>
  <rect x="472" y="125" width="13" height="170" fill="#8c8a84"/>
  <rect x="380" y="140" width="24" height="510" fill="#8a8a86"/>
  <rect x="402" y="150" width="16" height="500" fill="#b8b8b0"/>
  <rect x="484" y="500" width="13" height="140" fill="#8a8a86"/>
  <rect x="704" y="600" width="16" height="180" fill="#8a8a86"/>
  <rect x="686" y="620" width="10" height="90" fill="#8a8a86"/>
  <rect x="796" y="640" width="12" height="100" fill="#8a8a86"/>
  <rect x="975" y="560" width="10" height="70" fill="#8a8a86"/>
  <!-- tower deck/rail -->
  <rect x="258" y="258" width="115" height="92" rx="18" fill="#d4e8d4" stroke="#22a044" stroke-width="11"/>
  <rect x="330" y="325" width="50" height="45" fill="#6a9ad8"/>
  <polygon points="310,370 385,360 385,420 300,410" fill="#8c8a84"/>
  <path d="M300,262 L302,400 M372,268 L372,690 M415,255 L480,250 L482,290 M430,255 L432,300 M450,253 L452,305 M466,252 L468,310" stroke="#e8c880" stroke-width="7" fill="none"/>
  <!-- climbing panel -->
  <path d="M300,410 L385,420 L380,692 L350,702 L282,672 Q272,540 300,410 Z" fill="#2a6c36"/>
  <g fill="#c8d8a0"><circle cx="335" cy="460" r="7"/><circle cx="318" cy="520" r="7"/><circle cx="350" cy="545" r="7"/><circle cx="320" cy="590" r="7"/><circle cx="345" cy="630" r="8"/><circle cx="310" cy="650" r="7"/></g>
  <path d="M372,690 L405,688 L405,620" stroke="#e8c880" stroke-width="7" fill="none"/>
  <!-- bridge -->
  <polygon points="480,265 690,395 690,482 600,428 480,338" fill="#1f8a3c"/>
  <path d="M480,265 L690,395" stroke="#22b04a" stroke-width="9"/>
  <path d="M500,290 L500,350 M580,335 L580,410 M640,375 L640,450" stroke="#35b85a" stroke-width="6"/>
  <polygon points="395,285 600,425 600,582 395,447" fill="#2a6e38"/>
  <path d="M420,340 q30,-10 50,20 q20,30 60,30 q20,10 40,50 M430,400 q40,10 60,40 q30,20 70,50" stroke="#9cc080" stroke-width="6" fill="none" opacity="0.8"/>
  <path d="M395,447 L600,582" stroke="#22b04a" stroke-width="11"/>
  <path d="M395,285 L600,425" stroke="#22b04a" stroke-width="7"/>
  <!-- centre panel -->
  <path d="M570,445 L618,432 L628,818 L600,836 L570,782 Z" fill="#2a6c36"/>
  <path d="M585,520 q20,40 0,80 q-10,40 15,90 q5,40 -5,80" stroke="#9cc080" stroke-width="6" fill="none" opacity="0.8"/>
  <rect x="566" y="440" width="12" height="150" fill="#6a6a66"/>
  <rect x="618" y="470" width="12" height="340" fill="#8a8a86"/>
  <!-- arches -->
  <path d="M692,480 L692,402 Q750,330 812,372 L812,500 Z" fill="#2c6a38"/>
  <path d="M714,470 V390 M736,480 V372 M758,485 V362 M780,490 V362 M800,495 V368" stroke="#dfe8df" stroke-width="6"/>
  <path d="M692,402 Q750,330 812,372" stroke="#4a5a48" stroke-width="9" fill="none"/>
  <path d="M828,500 L828,405 Q885,340 940,385 L940,500 Z" fill="#2c6a38"/>
  <path d="M848,490 V390 M868,490 V375 M888,495 V368 M908,500 V372 M926,500 V380" stroke="#dfe8df" stroke-width="5"/>
  <path d="M828,405 Q885,340 940,385" stroke="#4a5a48" stroke-width="9" fill="none"/>
  <polygon points="720,500 800,505 940,500 940,520 760,540" fill="#1fa040"/>
  <!-- cream rails -->
  <path d="M805,420 L805,278 L815,292 L885,352 L885,520 M625,482 L692,470 L702,592 L642,602 L642,640 M800,430 L865,420 L868,500" stroke="#ecc87c" stroke-width="8" fill="none"/>
  <!-- right ramp -->
  <polygon points="1000,400 1285,562 1285,610 1000,455" fill="#1f8a3c"/>
  <path d="M1010,420 L1280,575 M1010,440 L1280,595" stroke="#35b85a" stroke-width="5"/>
  <polygon points="945,422 1282,582 1272,692 1222,722 945,542" fill="#2a6e38"/>
  <path d="M970,470 q40,0 60,30 q40,0 60,40 q40,0 70,40 q30,0 60,40" stroke="#9cc080" stroke-width="6" fill="none" opacity="0.8"/>
  <path d="M945,542 L1222,722" stroke="#22b04a" stroke-width="10"/>
  <polygon points="1190,702 1282,680 1288,700 1232,732" fill="#22b04a"/>
  <path d="M985,360 L985,425 M975,395 L1285,568 L1272,665 M1140,485 L1130,520 L1060,590 M1245,550 L1235,690" stroke="#ecc87c" stroke-width="7" fill="none"/>
  <rect x="980" y="355" width="10" height="80" fill="#6a6a66"/>
  <!-- large slide -->
  <rect x="915" y="790" width="28" height="92" fill="#ecc87c"/>
  <polygon points="790,505 852,520 1052,790 1312,872 1252,992 950,832 720,572" fill="#8ea4c8"/>
  <polygon points="790,505 852,520 1000,740 940,760 760,560" fill="#9cb2d4"/>
  <polygon points="852,520 905,545 1062,782 1310,868 1312,872 1052,790" fill="#e4e8f0"/>
  <polygon points="720,572 950,832 1252,992 1245,1000 940,845 712,582" fill="#8492a8"/>
  <polygon points="1052,790 1312,872 1290,920 1030,830" fill="#a8bcdc"/>
  <!-- roof -->
  <polygon points="285,100 385,115 485,105 485,140 385,150 290,140" fill="#24602e"/>
  <polygon points="375,35 495,100 485,118 385,112 285,118 280,100" fill="#2e7038"/>
  <polygon points="375,35 385,112 285,118 280,100" fill="#3a8044"/>
  <path d="M330,75 q15,10 30,0 M400,70 q15,15 35,5 M420,95 q20,5 40,0 M310,100 q20,-5 40,5" stroke="#9cc080" stroke-width="5" fill="none" opacity="0.8"/>
</g></g>
<g filter="url(#softe)"><g transform="translate(790,780) scale(0.18762)">
  <!-- ground shadows -->
  <g stroke="#7c7c7c" fill="none" opacity="0.9">
    <path d="M210,698 L1150,512 L1450,628" stroke-width="9"/>
    <path d="M345,955 L255,700" stroke-width="11" stroke="#8a8a8a"/>
    <path d="M1018,750 L870,650" stroke-width="8"/>
    <path d="M330,680 L400,725 M480,665 L500,725 M600,640 L760,740 M700,610 L830,735 M1080,540 L1130,575" stroke-width="5" stroke="#a0a0a0"/>
  </g>
  <g fill="#5a5a5a" opacity="0.85">
    <polygon points="400,728 490,715 505,735 420,752"/>
    <polygon points="752,745 830,732 842,748 770,762"/>
    <polygon points="1115,568 1180,560 1292,610 1240,632"/>
    <polygon points="935,608 990,602 990,620 940,625"/>
  </g>
  <!-- back legs -->
  <g stroke="#1878d0" stroke-linecap="round" fill="none">
    <path d="M212,218 L253,795" stroke-width="20"/>
    <path d="M935,175 L852,652" stroke-width="19"/>
    <path d="M1400,155 L1262,548" stroke-width="18"/>
  </g>
  <!-- chains -->
  <g stroke="#2a2a2a" stroke-width="6.5" fill="none">
    <path d="M350,215 L420,610"/><path d="M570,205 L510,610"/>
    <path d="M686,198 L800,620"/><path d="M856,188 L880,620"/>
    <path d="M1025,178 L1010,505"/><path d="M1160,172 L1060,505"/>
  </g>
  <g stroke="#7a7a7a" stroke-width="6" fill="none">
    <path d="M1255,165 L1290,400"/><path d="M1330,162 L1385,435"/>
  </g>
  <!-- seats -->
  <polygon points="405,612 515,602 522,635 410,648" fill="#4a4a4e"/>
  <polygon points="798,628 903,612 906,628 802,644" fill="#4a4a4e"/>
  <polygon points="1000,510 1060,504 1066,526 1004,532" fill="#4a4a4e"/>
  <!-- blue seat -->
  <path d="M1228,398 Q1240,382 1270,388 L1320,430 L1400,455 Q1415,470 1400,490 L1330,512 Q1290,510 1270,480 Z" fill="#1460d8"/>
  <path d="M1228,398 L1270,388 L1330,470 L1300,500 Z" fill="#1d74ec"/>
  <path d="M1350,440 L1400,430" stroke="#e8e8f0" stroke-width="7"/>
  <path d="M1330,505 L1400,485" stroke="#222" stroke-width="9"/>
  <!-- top bar -->
  <path d="M170,212 L1420,149" stroke="#f2d60e" stroke-width="22" fill="none"/>
  <path d="M170,207 L1420,144" stroke="#fbe94a" stroke-width="7" fill="none"/>
  <g fill="#2088dc">
    <rect x="340" y="188" width="18" height="40" rx="6"/><rect x="560" y="178" width="18" height="40" rx="6"/>
    <rect x="676" y="172" width="18" height="40" rx="6"/><rect x="846" y="163" width="18" height="40" rx="6"/>
    <rect x="1016" y="153" width="18" height="40" rx="6"/><rect x="1150" y="147" width="18" height="40" rx="6"/>
    <rect x="1246" y="142" width="18" height="40" rx="6"/><rect x="1322" y="138" width="18" height="40" rx="6"/>
  </g>
  <!-- front legs -->
  <g stroke="#1e88e0" stroke-linecap="round" fill="none">
    <path d="M215,215 L343,955" stroke-width="27"/>
    <path d="M942,175 L1020,752" stroke-width="25"/>
    <path d="M1408,152 L1455,626" stroke-width="22"/>
  </g>
  <rect x="188" y="192" width="60" height="34" rx="10" fill="#2088dc"/>
  <rect x="905" y="158" width="90" height="26" rx="10" fill="#2088dc"/>
  <rect x="1380" y="135" width="44" height="28" rx="10" fill="#2088dc"/>
</g></g>

<!-- arrows -->
<g stroke="#FF0000" fill="#FF0000" stroke-linecap="butt">
<line x1="205.0" y1="238.6" x2="378.5" y2="242.4" stroke-width="4.8"/>
<polygon stroke="none" points="388.7,242.6 374.6,248.9 378.0,242.4 374.9,235.7"/>
<line x1="894.0" y1="237.3" x2="641.0" y2="286.7" stroke-width="4.7"/>
<polygon stroke="none" points="631.3,288.6 643.4,279.6 641.5,286.6 645.9,292.4"/>
<line x1="905.6" y1="416.7" x2="724.0" y2="422.5" stroke-width="4.7"/>
<polygon stroke="none" points="714.1,422.8 727.5,415.9 724.5,422.5 727.9,428.8"/>
<line x1="204.3" y1="493.0" x2="312.4" y2="714.8" stroke-width="3.9"/>
<polygon stroke="none" points="316.0,722.1 306.2,714.3 312.2,714.3 315.9,709.6"/>
<line x1="755.4" y1="600.8" x2="639.7" y2="639.7" stroke-width="4.7"/>
<polygon stroke="none" points="630.3,642.9 641.1,632.4 640.2,639.6 645.3,644.7"/>
<line x1="816.0" y1="861.0" x2="539.8" y2="844.8" stroke-width="5.1"/>
<polygon stroke="none" points="529.0,844.2 544.2,838.0 540.3,844.9 543.4,852.1"/>
</g>

<!-- zones -->
<ellipse cx="552.7" cy="295.1" rx="267.4" ry="181.4" transform="rotate(30.4 552.7 295.1)" fill="#FFC71C" fill-opacity="0.45" stroke="#123F52" stroke-width="1.6"/>
<ellipse cx="427.7" cy="718.5" rx="314.7" ry="238" transform="rotate(0.74 427.7 718.5)" fill="#ABE297" fill-opacity="0.45" stroke="#123F52" stroke-width="1.6"/>

<!-- plans -->
<g>
<g fill="none" stroke="#8a7228" stroke-width="0.9" opacity="0.45">
<path d="M399.4,217.0 Q410.7,204.6 424.2,204.1 Q433.2,204.1 438.8,206.9 L461.3,222.6 Q473.7,233.9 473.7,248.5 Q473.7,256.4 471.4,262.0 L446.7,296.9 Q437.7,306.5 423.0,306.5 Q412.9,306.0 405.0,301.4 L382.5,285.7 Q374.1,275.6 374.1,259.8 Q374.6,248.5 383.6,237.3Z"/>
<path d="M419.7,204.6 L421.4,223.8 L424.2,235.0 L429.8,240.7 M429.8,306.0 L426.4,286.8 L423.0,273.3 L418.5,268.8"/>
</g>
<path d="M421.9,238.4 L441.6,249.1 L427.5,271.1 L407.3,260.9Z" fill="#6e5a18" opacity="0.25"/>
<path d="M419.8,241.6 L439.6,252.2 M417.7,244.8 L437.6,255.4 M415.6,248.1 L435.6,258.5 M413.6,251.3 L433.6,261.6 M411.5,254.5 L431.6,264.8 M409.4,257.7 L429.6,267.9 M425.2,240.2 L410.7,262.6 M428.5,242.0 L414.0,264.3 M431.8,243.8 L417.4,266.0 M435.0,245.5 L420.8,267.7 M438.3,247.3 L424.2,269.4" fill="none" stroke="#6e5a18" stroke-width="0.8" opacity="0.45"/>
<g fill="none" stroke="#8a7228" stroke-width="0.9" opacity="0.45">
<path d="M530.0,250.5 L616.4,313.5 M558.6,246.8 L620.1,291.8 M552.6,253.5 L587.1,278.3 M530.0,250.5 L463.3,342.1 M517.3,282.8 L470.0,348.1 M545.8,266.3 L485.0,327.1 M616.4,313.5 L536.1,390.1 M611.1,291.0 L588.6,318.0 M463.3,342.1 L479.0,354.1 M485.0,327.1 L504.5,339.8 M512.0,291.0 L527.0,300.0 M611.1,291.0 L620.1,291.8 M569.8,304.5 L584.1,315.0 M539.1,390.1 L530.0,391.6"/>
<path d="M545.1,272.3 C548.7,271.6 549.9,268.0 557.1,270.0 C564.3,272.0 564.1,272.7 569.1,279.0 C574.0,285.3 573.3,283.4 573.6,291.0 C573.8,298.7 566.7,297.3 569.8,304.5 C573.0,311.7 578.0,308.3 584.1,315.0 C590.2,321.8 589.6,319.8 590.1,327.1 C590.5,334.3 586.9,335.5 585.6,339.1"/>
<path d="M533.0,286.5 C530.8,288.3 529.1,288.5 525.5,292.5 C521.9,296.6 525.1,294.6 521.0,300.0 C517.0,305.4 518.3,303.3 512.0,310.5 C505.7,317.7 506.3,316.4 500.0,324.1 C493.7,331.7 494.2,329.8 491.0,336.1 C487.9,342.4 489.1,339.7 489.5,345.1 C490.0,350.5 491.6,351.4 492.5,354.1"/>
<path d="M585.6,339.1 C580.6,345.4 578.5,348.4 569.1,360.1 C559.6,371.8 561.3,369.1 554.1,378.1 C546.9,387.1 550.5,385.1 545.1,390.1 C539.7,395.0 541.0,394.1 536.1,394.6 C531.1,395.0 530.8,392.5 528.5,391.6"/>
</g>
<g fill="none" stroke="#6e5a18" stroke-width="1.4" opacity="0.5">
<path d="M530.0,310.5 L566.1,330.1 M534.5,306.0 L570.6,325.6 M566.1,330.1 L545.1,360.1 M560.1,327.1 L540.6,357.1 M545.1,360.1 L512.0,343.6 M548.1,354.1 L515.0,339.1 M512.0,343.6 L530.0,310.5 M518.0,345.1 L536.1,313.5 M551.1,291.8 L539.8,307.5 M553.3,293.3 L542.1,309.0 M536.1,366.1 L542.1,370.6 L539.1,375.1 L531.5,369.1"/>
</g>
<circle cx="533.0" cy="313.5" r="4.5" fill="#6e5a18" opacity="0.45"/>
<circle cx="564.6" cy="331.6" r="4.5" fill="#6e5a18" opacity="0.45"/>
<circle cx="543.6" cy="360.1" r="4.5" fill="#6e5a18" opacity="0.45"/>
<circle cx="513.5" cy="342.1" r="4.5" fill="#6e5a18" opacity="0.45"/>
<path d="M540.6,318.0 L544.3,312.0 M543.0,319.4 L546.7,313.4 M545.4,320.7 L549.2,314.7 M547.9,322.0 L551.6,316.0 M550.3,323.3 L554.1,317.3 M552.7,324.6 L556.5,318.6 M555.2,325.9 L558.9,319.9 M557.6,327.2 L561.4,321.2 M521.0,345.1 L524.8,339.1 M524.0,346.6 L527.8,340.6 M527.0,348.1 L530.8,342.1 M530.0,349.6 L533.8,343.6 M533.0,351.1 L536.8,345.1 M536.1,352.6 L539.8,346.6" fill="none" stroke="#6e5a18" stroke-width="0.9" opacity="0.45"/>
<g fill="none" stroke="#8a7228" stroke-width="0.9" opacity="0.45">
<path d="M650.0,350.5 L716.6,392.5 L658.1,485.2 L591.5,443.2Z"/>
<path d="M678.1,379.7 L630.0,455.9 M648.4,366.3 L703.0,400.8 M599.9,429.8 L666.5,471.8"/>
</g>
<g fill="none" stroke="#6e5a18" stroke-width="1.2" opacity="0.5">
<path d="M650.4,360.9 L705.0,395.4 L654.1,476.2 L599.5,441.7Z"/>
<path d="M647.6,376.6 L694.0,405.9 L660.5,459.0 L614.1,429.7Z"/>
<path d="M656.3,362.8 L605.3,443.5 M702.8,392.1 L651.8,472.9"/>
</g>
<path d="M629.7,402.4 L678.4,433.2" fill="none" stroke="#6e5a18" stroke-width="2" opacity="0.5"/>
<g fill="none" stroke="#5f7a58" stroke-width="0.9" opacity="0.45">
<path d="M407.6,652.4 L526.6,763.9 M494.6,724.2 L536.8,757.1 M407.6,652.4 L457.4,603.4 M494.6,724.2 L509.8,708.1 M504.7,723.3 L518.2,709.8 M543.5,703.1 L525.0,730.1 M508.1,627.1 L525.0,637.2"/>
<path d="M457.4,603.4 C462.5,605.0 466.2,606.5 474.3,608.5 C482.4,610.5 478.4,607.7 484.4,610.2 C490.5,612.7 487.5,611.9 494.6,617.0 C501.7,622.0 504.0,624.0 508.1,627.1"/>
<path d="M525.0,637.2 C528.0,634.7 529.0,634.9 535.1,628.8 C541.2,622.7 537.6,622.5 545.2,617.0 C552.8,611.4 551.3,611.7 560.4,610.2 C569.5,608.7 567.5,607.8 575.6,611.9 C583.7,615.9 581.4,616.6 587.4,623.7 C593.5,630.8 594.4,626.9 595.9,635.5 C597.4,644.1 591.0,644.3 592.5,652.4 C594.0,660.5 597.9,655.5 600.9,662.5 C604.0,669.6 604.7,667.9 602.6,676.1 C600.6,684.2 600.3,682.5 594.2,689.6 C588.1,696.7 587.4,695.1 582.4,699.7 C577.3,704.3 579.3,698.7 577.3,704.8 C575.3,710.8 580.2,712.4 575.6,720.0 C571.1,727.6 569.2,723.5 562.1,730.1 C555.0,736.7 558.6,738.9 552.0,741.9 C545.4,744.9 547.2,742.2 540.2,740.2 C533.1,738.2 534.9,738.7 528.3,735.2 C521.7,731.6 524.3,733.5 518.2,728.4 C512.1,723.3 514.2,722.8 508.1,718.3 C502.0,713.7 505.0,717.8 497.9,713.2 C490.8,708.6 489.0,708.6 484.4,703.1 C479.9,697.5 487.8,701.2 482.7,694.6 C477.7,688.0 472.6,688.7 467.5,681.1 C462.5,673.5 469.4,676.4 465.9,669.3 C462.3,662.2 460.8,664.6 455.7,657.5 C450.7,650.4 453.0,653.3 449.0,645.7 C444.9,638.1 444.7,639.2 442.2,632.1 C439.7,625.1 438.5,627.6 440.5,622.0 C442.6,616.4 443.9,619.1 449.0,613.6 C454.0,608.0 454.9,606.5 457.4,603.4"/>
</g>
<g fill="none" stroke="#3f5a3c" stroke-width="1.1" opacity="0.5">
<path d="M455.7,618.6 L494.6,654.1 M459.1,616.1 L497.9,651.6 M455.7,618.6 L459.1,616.1 M518.2,696.3 L548.6,726.7 M548.6,726.7 L560.4,716.6 M560.4,716.6 L531.7,686.2 M514.8,703.1 L548.6,665.9 M521.6,696.3 L552.0,662.5 M528.3,684.5 L543.5,698.0 M501.3,669.3 L519.9,684.5 M509.8,660.9 L528.3,676.1 M525.0,674.4 L543.5,655.8 M533.4,682.8 L552.0,664.2 M550.3,662.5 L572.2,682.8 M558.7,654.1 L580.7,674.4 M572.2,682.8 L580.7,674.4 M552.0,644.0 L562.1,652.4 M558.7,637.2 L568.9,645.7"/>
<path d="M525.0,676.1 C521.9,678.6 519.1,678.9 514.8,684.5 C510.5,690.1 511.6,689.6 510.6,694.6 C509.6,699.7 509.7,698.3 511.4,701.4 C513.2,704.4 515.0,703.7 516.5,704.8"/>
</g>
<path d="M499.6,650.7 L509.8,660.0 L497.9,672.7 L488.7,664.2Z" fill="#3f5a3c" opacity="0.5"/>
<path d="M510.9,663.3 L504.9,670.6 M513.2,665.2 L507.2,672.5 M515.5,667.1 L509.5,674.4 M517.8,669.0 L511.8,676.3 M520.1,670.9 L514.2,678.2 M522.5,672.8 L516.5,680.1 M524.8,674.7 L518.8,682.0 M528.2,672.9 L534.8,679.6 M530.5,670.6 L537.2,677.3 M532.8,668.3 L539.5,675.0 M535.1,666.0 L541.8,672.6 M537.4,663.6 L544.1,670.3 M539.8,661.3 L546.5,668.0 M542.1,659.0 L548.8,665.7 M560.5,656.7 L553.4,664.4 M562.9,659.0 L555.8,666.7 M565.4,661.2 L558.3,668.9 M567.8,663.5 L560.7,671.2 M570.3,665.7 L563.2,673.4 M572.7,668.0 L565.6,675.7 M575.1,670.2 L568.0,677.9 M577.6,672.5 L570.5,680.2 M560.6,639.5 L555.2,645.9 M563.1,641.6 L557.7,648.1 M565.7,643.7 L560.2,650.2" fill="none" stroke="#3f5a3c" stroke-width="0.9" opacity="0.45"/>
<g fill="none" stroke="#5f7a58" stroke-width="0.9" opacity="0.45">
<path d="M325.0,715.0 L373.8,765.7 M373.8,765.7 L321.3,824.8 M266.9,761.0 L321.3,824.8 M266.9,761.0 L283.8,745.0 M283.8,745.0 L293.2,754.4 M316.6,722.5 L325.0,715.0 M370.1,776.9 L328.8,820.1"/>
<circle cx="319.4" cy="767.5" r="34.7"/>
<path d="M327.5,733.8 L353.4,760.6 M312.5,733.5 L285.7,759.4 M313.5,733.3 L353.4,774.6 M326.5,733.6 L285.2,773.4 M303.3,736.8 L349.6,784.7 M336.6,737.4 L288.7,783.7 M295.3,742.6 L343.5,792.5 M344.4,743.4 L294.5,791.7 M289.3,750.4 L335.5,798.3 M350.2,751.4 L302.2,797.7 M285.4,760.4 L325.3,801.7 M353.6,761.6 L312.3,801.5 M285.4,774.5 L311.3,801.3 M353.2,775.6 L326.3,801.6"/>
</g>
<circle cx="319.0" cy="767.5" r="5.5" fill="#3f5a3c" opacity="0.45"/>
<path d="M311.9,760.0 L326.9,775.0 M326.9,760.0 L311.9,775.0" fill="none" stroke="#3f5a3c" stroke-width="2" opacity="0.45"/>
<g fill="none" stroke="#5f7a58" stroke-width="0.9" opacity="0.45">
<path d="M467.3,745.2 L538.4,808.4 L470.4,885.0 L399.2,821.9Z"/>
<path d="M447.1,795.9 L490.5,834.4 M407.6,818.8 L472.5,876.3 M527.4,814.4 L466.3,883.2"/>
</g>
<g fill="none" stroke="#3f5a3c" stroke-width="1.1" opacity="0.5">
<path d="M465.9,759.8 L524.1,811.5 L471.7,870.4 L413.6,818.8Z"/>
<path d="M464.7,776.0 L508.1,814.6 L472.9,854.2 L429.5,815.7Z"/>
<path d="M476.4,755.1 L417.1,821.9 M417.9,813.9 L476.1,865.5 M520.5,808.3 L468.2,867.3"/>
</g>
<path d="M486.7,795.0 L450.9,835.3" fill="none" stroke="#3f5a3c" stroke-width="2.2" opacity="0.5"/>
</g>

<!-- overlay -->
<g fill="none" stroke="#156082" stroke-width="7" stroke-dasharray="30.5 22.5">
<path d="M670,107.5 L590,219.8" stroke-dasharray="30.5 23"/>
<path d="M501.5,182.6 L652.75,287.6"/>
<path d="M644.5,297.6 L567.4,414.4" stroke-dasharray="29.8 22.4"/>
<path d="M566.5,426.5 A86,115 0 0 1 487.5,584" stroke-dasharray="30 24"/>
</g>
<g fill="#46B1E1" stroke="#000" stroke-width="1">
<circle cx="458.1" cy="147.8" r="46.7"/>
<polygon points="323,501.8 408.1,590.9 368.6,628.9 284,537.8"/>
<polygon points="315.4,619.3 343.3,647.7 315.4,674.5 288,646.7"/>
<polygon points="291.1,851.8 318.4,880.1 289.6,907 262.7,878.6"/>
<polygon points="419.2,864 461.3,904.5 420.2,946.5 377.7,904.5"/>
</g>
<g fill="#FFFF00" stroke="#000" stroke-width="1.2">
<circle cx="538.6" cy="457" r="13.7"/>
<circle cx="526.6" cy="513" r="13.7"/>
<circle cx="488.5" cy="556" r="13.7"/>
</g>

<!-- legend -->
<line x1="1239.5" y1="70" x2="1239.5" y2="988.5" stroke="#000" stroke-width="1.3"/>
<ellipse cx="1339.2" cy="251.9" rx="69.4" ry="45.3" fill="#FFE699" stroke="#000" stroke-width="1"/>
<ellipse cx="1339.2" cy="420" rx="69.4" ry="45.3" fill="#D9F2D0" stroke="#000" stroke-width="1"/>
<g stroke="#156082" stroke-width="8"><line x1="1259" y1="569" x2="1295" y2="569"/><line x1="1312" y1="569" x2="1348" y2="569"/><line x1="1365" y1="569" x2="1401" y2="569"/></g>
<circle cx="1392.5" cy="728.8" r="15.8" fill="#FFFF00" stroke="#000" stroke-width="1"/>
<circle cx="1358" cy="888.8" r="50.4" fill="#46B1E1" stroke="#000" stroke-width="1"/>
<g class="k" lengthAdjust="spacingAndGlyphs">
<text x="1278.6" y="132.6" textLength="218.3" lengthAdjust="spacingAndGlyphs">Key to plan</text>
<text x="1442.6" y="250.3" textLength="147.3" lengthAdjust="spacingAndGlyphs">Toddler</text>
<text x="1442.6" y="289" textLength="90.5" lengthAdjust="spacingAndGlyphs">zone</text>
<text x="1442.6" y="410" textLength="115" lengthAdjust="spacingAndGlyphs">Junior</text>
<text x="1442.6" y="447.6" textLength="90.5" lengthAdjust="spacingAndGlyphs">zone</text>
<text x="1442.6" y="568.4" textLength="204.5" lengthAdjust="spacingAndGlyphs">Position of</text>
<text x="1442.6" y="606.3" textLength="168.1" lengthAdjust="spacingAndGlyphs">footpath</text>
<text x="1442.6" y="709.5" textLength="204.5" lengthAdjust="spacingAndGlyphs">Position of</text>
<text x="1442.6" y="747" textLength="276.2" lengthAdjust="spacingAndGlyphs">picnic/seating</text>
<text x="1442.6" y="785" textLength="84.4" lengthAdjust="spacingAndGlyphs">area</text>
<text x="1442.6" y="869" textLength="204.5" lengthAdjust="spacingAndGlyphs">Position of</text>
<text x="1442.6" y="906.8" textLength="155.6" lengthAdjust="spacingAndGlyphs">existing</text>
<text x="1442.6" y="943.5" textLength="207.5" lengthAdjust="spacingAndGlyphs">equipment</text>
</g>

</svg>
</body></html>
